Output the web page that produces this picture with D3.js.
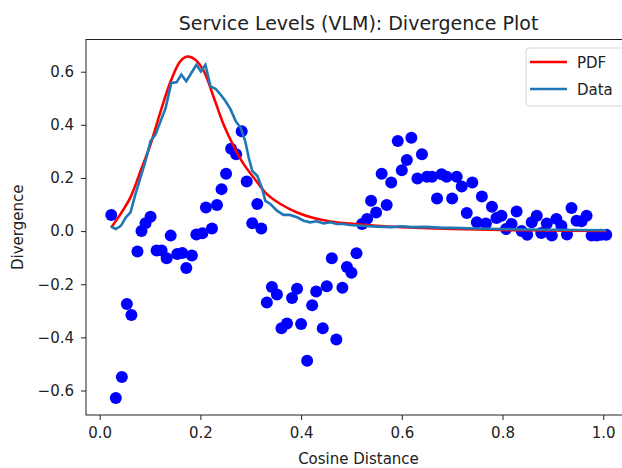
<!DOCTYPE html>
<html>
<head>
<meta charset="utf-8">
<script src="https://cdn.jsdelivr.net/npm/d3@7"></script>
<style>
  body { margin: 0; background: #fff; }
  svg { display: block; font-family: "DejaVu Sans", sans-serif; }
</style>
</head>
<body>
<svg id="chart" width="622" height="468"></svg>
<script>
// scatter: cosine distance vs divergence
const scatterX = [0.023, 0.032, 0.044, 0.054, 0.063, 0.075, 0.083, 0.091, 0.101, 0.113,
  0.123, 0.133, 0.141, 0.154, 0.164, 0.172, 0.183, 0.192, 0.204, 0.211,
  0.223, 0.233, 0.242, 0.251, 0.261, 0.271, 0.282, 0.292, 0.303, 0.313,
  0.321, 0.332, 0.342, 0.352, 0.361, 0.372, 0.382, 0.392, 0.400, 0.412,
  0.422, 0.430, 0.443, 0.451, 0.461, 0.470, 0.482, 0.491, 0.500, 0.510,
  0.521, 0.531, 0.539, 0.549, 0.560, 0.570, 0.579, 0.592, 0.600, 0.610,
  0.619, 0.631, 0.640, 0.650, 0.660, 0.670, 0.679, 0.689, 0.700, 0.709,
  0.719, 0.729, 0.740, 0.749, 0.759, 0.767, 0.779, 0.788, 0.798, 0.807,
  0.818, 0.828, 0.838, 0.849, 0.858, 0.868, 0.877, 0.888, 0.898, 0.907,
  0.917, 0.928, 0.937, 0.947, 0.957, 0.967, 0.977, 0.987, 0.996, 1.006];
const scatterY = [0.061, -0.628, -0.549, -0.274, -0.316, -0.077, 0.000, 0.030, 0.054, -0.073,
  -0.073, -0.102, -0.017, -0.086, -0.082, -0.139, -0.092, -0.013, -0.008, 0.089,
  0.010, 0.098, 0.158, 0.216, 0.310, 0.289, 0.376, 0.187, 0.030, 0.102,
  0.010, -0.269, -0.210, -0.239, -0.366, -0.348, -0.252, -0.217, -0.350, -0.488,
  -0.279, -0.227, -0.366, -0.208, -0.102, -0.408, -0.213, -0.135, -0.157, -0.083,
  0.027, 0.046, 0.114, 0.070, 0.216, 0.098, 0.183, 0.339, 0.229, 0.268,
  0.351, 0.198, 0.289, 0.205, 0.205, 0.123, 0.214, 0.205, 0.123, 0.205,
  0.168, 0.068, 0.183, 0.033, 0.130, 0.029, 0.092, 0.049, 0.058, 0.008,
  0.027, 0.074, 0.000, -0.014, 0.033, 0.058, -0.007, 0.029, -0.017, 0.046,
  0.020, -0.013, 0.087, 0.039, 0.037, 0.058, -0.017, -0.017, -0.014, -0.014];

// fitted PDF
const pdfX = [0.023, 0.04, 0.061, 0.081, 0.101, 0.121, 0.141, 0.16, 0.174, 0.19,
  0.207, 0.227, 0.246, 0.266, 0.286, 0.306, 0.332, 0.359, 0.392, 0.425,
  0.458, 0.491, 0.55, 0.6, 0.7, 0.8, 0.9, 1.006];
const pdfY = [0.014, 0.06, 0.127, 0.225, 0.327, 0.451, 0.564, 0.639, 0.657, 0.645,
  0.601, 0.501, 0.401, 0.32, 0.252, 0.201, 0.139, 0.102, 0.07, 0.049,
  0.036, 0.029, 0.02, 0.015, 0.008, 0.004, 0.002, 0.001];

// empirical data curve
const dataX = [0.022, 0.032, 0.042, 0.052, 0.061, 0.071, 0.081, 0.091, 0.101, 0.111,
  0.121, 0.131, 0.142, 0.153, 0.162, 0.172, 0.182, 0.192, 0.201, 0.210,
  0.220, 0.230, 0.240, 0.250, 0.260, 0.270, 0.280, 0.289, 0.296, 0.303,
  0.313, 0.322, 0.329, 0.339, 0.352, 0.365, 0.378, 0.392, 0.405, 0.418,
  0.431, 0.445, 0.458, 0.471, 0.484, 0.497, 0.52, 0.55, 0.58, 0.60,
  0.62, 0.65, 0.68, 0.70, 0.75, 0.80, 0.85, 0.90, 0.95, 1.006];
const dataY = [0.017, 0.008, 0.020, 0.052, 0.070, 0.139, 0.201, 0.264, 0.339, 0.364,
  0.414, 0.464, 0.557, 0.561, 0.589, 0.564, 0.595, 0.626, 0.601, 0.626,
  0.545, 0.536, 0.514, 0.489, 0.458, 0.414, 0.389, 0.339, 0.276, 0.227,
  0.208, 0.164, 0.114, 0.102, 0.077, 0.061, 0.061, 0.052, 0.039, 0.033,
  0.037, 0.029, 0.033, 0.027, 0.027, 0.023, 0.020, 0.017, 0.015, 0.018,
  0.015, 0.016, 0.012, 0.012, 0.010, 0.008, 0.006, 0.005, 0.004, 0.003];

const yTicks = [-0.6, -0.4, -0.2, 0.0, 0.2, 0.4, 0.6];
const xTicks = [0.0, 0.2, 0.4, 0.6, 0.8, 1.0];

const svg = d3.select("#chart");
const mLeft = 86, mRight = 631, mTop = 39.5, mBottom = 415;

// matplotlib style 5% margins
function padded(vals) {
  const [a, b] = d3.extent(vals);
  const m = (b - a) * 0.05;
  return [a - m, b + m];
}
const x = d3.scaleLinear().domain(padded(scatterX.concat(pdfX, dataX))).range([mLeft, mRight]);
const y = d3.scaleLinear().domain(padded(scatterY.concat(pdfY, dataY))).range([mBottom, mTop]);

const fmt = d3.format(".1f");

const gx = svg.append("g").attr("transform", `translate(0,${mBottom})`)
  .call(d3.axisBottom(x).tickValues(xTicks).tickFormat(fmt).tickSize(5).tickSizeOuter(0).tickPadding(7));
const gy = svg.append("g").attr("transform", `translate(${mLeft},0)`)
  .call(d3.axisLeft(y).tickValues(yTicks).tickFormat(fmt).tickSize(5).tickSizeOuter(0).tickPadding(7));
[gx, gy].forEach(g => {
  g.select(".domain").remove();
  g.selectAll("text").attr("font-size", "15px").attr("fill", "#222").attr("font-family", "DejaVu Sans");
  g.selectAll("line").attr("stroke", "#222");
});

const plot = svg.append("g");
plot.selectAll("circle").data(scatterX).join("circle")
  .attr("cx", d => x(d))
  .attr("cy", (d, i) => y(scatterY[i]))
  .attr("r", 6)
  .attr("fill", "#0000ff");

const line = d3.line().x(d => x(d[0])).y(d => y(d[1]));
plot.append("path")
  .attr("d", line.curve(d3.curveCatmullRom)(d3.zip(pdfX, pdfY)))
  .attr("fill", "none").attr("stroke", "#ff0000").attr("stroke-width", 2.6);
plot.append("path")
  .attr("d", line.curve(d3.curveLinear)(d3.zip(dataX, dataY)))
  .attr("fill", "none").attr("stroke", "#1f77b4").attr("stroke-width", 2.6);

svg.append("rect")
  .attr("x", mLeft).attr("y", mTop).attr("width", mRight - mLeft).attr("height", mBottom - mTop)
  .attr("fill", "none").attr("stroke", "#222").attr("stroke-width", 1);

// legend
const lg = svg.append("g");
lg.append("rect").attr("x", 526).attr("y", 48).attr("width", 110).attr("height", 58)
  .attr("rx", 3).attr("fill", "#fff").attr("fill-opacity", 0.8).attr("stroke", "#d5d5d5");
const legendItems = [["PDF", "#ff0000"], ["Data", "#1f77b4"]];
legendItems.forEach((it, i) => {
  const yy = 62 + i * 27;
  lg.append("line").attr("x1", 530).attr("x2", 567).attr("y1", yy).attr("y2", yy)
    .attr("stroke", it[1]).attr("stroke-width", 2.6);
  lg.append("text").attr("x", 577).attr("y", yy + 5.5).attr("font-size", "15px")
    .attr("fill", "#222").text(it[0]);
});

svg.append("text").attr("x", (mLeft + mRight) / 2).attr("y", 30)
  .attr("text-anchor", "middle").attr("font-size", "19px").attr("fill", "#222")
  .text("Service Levels (VLM): Divergence Plot");
svg.append("text").attr("x", (mLeft + mRight) / 2).attr("y", 464)
  .attr("text-anchor", "middle").attr("font-size", "15px").attr("fill", "#222")
  .text("Cosine Distance");
svg.append("text").attr("transform", `translate(23,${(mTop + mBottom) / 2}) rotate(-90)`)
  .attr("text-anchor", "middle").attr("font-size", "15px").attr("fill", "#222")
  .text("Divergence");
</script>
</body>
</html>
